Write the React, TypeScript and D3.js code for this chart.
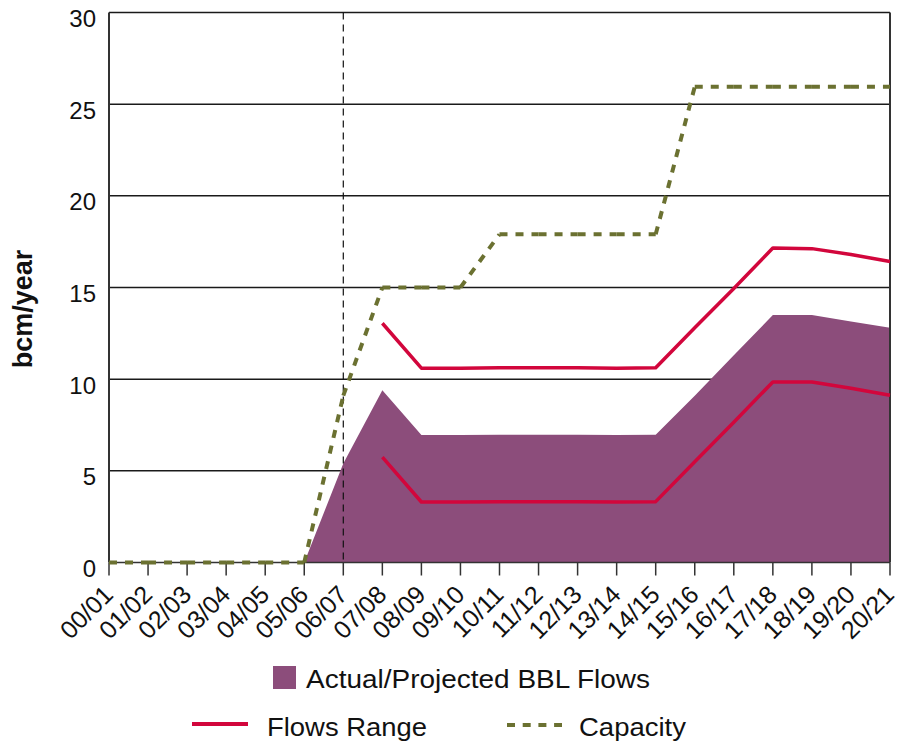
import React from "react";
import * as d3 from "d3";

const categories = ["00/01","01/02","02/03","03/04","04/05","05/06","06/07","07/08","08/09","09/10","10/11","11/12","12/13","13/14","14/15","15/16","16/17","17/18","18/19","19/20","20/21"];
const flows: (number | null)[] = [null,null,null,null,null,0,5.4,9.4,6.95,6.95,6.97,6.97,6.97,6.96,6.97,9.1,11.3,13.5,13.5,13.15,12.8];
const rangeUpper: (number | null)[] = [null,null,null,null,null,null,null,13.05,10.6,10.6,10.62,10.62,10.62,10.6,10.62,12.8,14.95,17.15,17.12,16.8,16.42];
const rangeLower: (number | null)[] = [null,null,null,null,null,null,null,5.75,3.3,3.3,3.32,3.32,3.32,3.3,3.32,5.5,7.65,9.85,9.85,9.5,9.12];
const capacity: number[] = [0,0,0,0,0,0,9.1,15,15,15,17.9,17.9,17.9,17.9,17.9,25.95,25.95,25.95,25.95,25.95,25.95];
const yTicks = [0,5,10,15,20,25,30];
const markerCategory = "06/07";

const FILL = "#8c4d7b";
const RED = "#d2063c";
const OLIVE = "#6b7131";
const FONT = "'Liberation Sans', Arial, sans-serif";

export default function App() {
  const W = 898, H = 743;
  const left = 109, right = 890, top = 12.5, bottom = 562.5;
  const x = d3.scalePoint<string>().domain(categories).range([left, right]);
  const y = d3.scaleLinear().domain([0, 30]).range([bottom, top]);

  const pts = (arr: (number | null)[]) =>
    categories.map((c, i) => ({ c, v: arr[i] })).filter(d => d.v !== null) as { c: string; v: number }[];

  const area = d3.area<{ c: string; v: number }>()
    .x(d => x(d.c)!).y0(y(0)).y1(d => y(d.v));
  const line = d3.line<{ c: string; v: number }>()
    .x(d => x(d.c)!).y(d => y(d.v));

  const capPts = pts(capacity);
  const capSegs = capPts.slice(1).map((d, i) => [capPts[i], d]);

  const mx = x(markerCategory)!;

  return (
    <svg width={W} height={H} style={{ position: "absolute", left: 0, top: 0, background: "#fff" }} fontFamily={FONT}>
      {yTicks.filter(t => t > 0).map(t => (
        <line key={t} x1={left} x2={right} y1={y(t)} y2={y(t)} stroke="#1a1a1a" strokeWidth={1.5} />
      ))}
      <path d={area(pts(flows))!} fill={FILL} />
      <line x1={mx} x2={mx} y1={top} y2={bottom} stroke="#111" strokeWidth={1.2} strokeDasharray="7,5" />
      {/* axes */}
      <line x1={left} x2={left} y1={top} y2={bottom} stroke="#333" strokeWidth={2} />
      <line x1={right} x2={right} y1={top} y2={bottom} stroke="#333" strokeWidth={2} />
      <line x1={left} x2={right} y1={bottom} y2={bottom} stroke="#333" strokeWidth={1.5} />
      {categories.map(c => (
        <line key={c} x1={x(c)} x2={x(c)} y1={bottom} y2={bottom + 13} stroke="#333" strokeWidth={1.5} />
      ))}
      {capSegs.map((s, i) => (
        <path key={i} d={line(s)!} fill="none" stroke={OLIVE} strokeWidth={4} strokeDasharray="8,8" />
      ))}
      <path d={line(pts(rangeUpper))!} fill="none" stroke={RED} strokeWidth={3.5} strokeLinejoin="round" />
      <path d={line(pts(rangeLower))!} fill="none" stroke={RED} strokeWidth={3.5} strokeLinejoin="round" />
      {yTicks.map(t => (
        <text key={t} x={96} y={y(t) + 14.5} textAnchor="end" fontSize={24} fill="#111">{t}</text>
      ))}
      {categories.map(c => (
        <text key={c} transform={`translate(${x(c)! - 0.5},${bottom + 27.5}) rotate(-45)`} textAnchor="end" dy="0.35em" fontSize={25} fill="#111">{c}</text>
      ))}
      <text transform={`translate(32,309) rotate(-90)`} textAnchor="middle" fontSize={27} fontWeight="bold" fill="#111">bcm/year</text>
      {/* legend */}
      <rect x={273} y={666} width={23} height={23} fill={FILL} />
      <text x={306} y={688} fontSize={25} fill="#111" textLength={344} lengthAdjust="spacingAndGlyphs">Actual/Projected BBL Flows</text>
      <line x1={192} x2={248} y1={724} y2={724} stroke={RED} strokeWidth={4} />
      <text x={267} y={736} fontSize={25} fill="#111" textLength={160} lengthAdjust="spacingAndGlyphs">Flows Range</text>
      <line x1={507} x2={562} y1={725} y2={725} stroke={OLIVE} strokeWidth={4} strokeDasharray="8,7.7" />
      <text x={579} y={736} fontSize={25} fill="#111" textLength={107} lengthAdjust="spacingAndGlyphs">Capacity</text>
    </svg>
  );
}
